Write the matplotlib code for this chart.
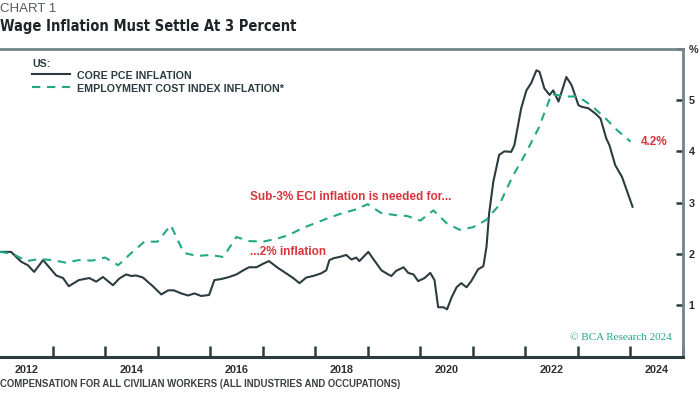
import numpy as np
import matplotlib
matplotlib.use('Agg')
import matplotlib.pyplot as plt

# Core PCE inflation (monthly), decimal year / percent
pce_year = [2012.02, 2012.21, 2012.40, 2012.53, 2012.65, 2012.82, 2013.07, 2013.20, 2013.31, 2013.50,
            2013.70, 2013.83, 2013.96, 2014.15, 2014.27, 2014.40, 2014.50, 2014.59, 2014.72, 2014.91,
            2015.07, 2015.20, 2015.31, 2015.45, 2015.58, 2015.70, 2015.83, 2015.98, 2016.08, 2016.21,
            2016.36, 2016.50, 2016.63, 2016.74, 2016.88, 2017.03, 2017.12, 2017.30, 2017.45, 2017.58,
            2017.70, 2017.83, 2017.96, 2018.11, 2018.21, 2018.27, 2018.36, 2018.46, 2018.59, 2018.69,
            2018.78, 2018.84, 2019.01, 2019.12, 2019.26, 2019.39, 2019.45, 2019.54, 2019.68, 2019.77,
            2019.87, 2019.96, 2020.08, 2020.19, 2020.27, 2020.34, 2020.44, 2020.51, 2020.59, 2020.69,
            2020.78, 2020.88, 2020.97, 2021.10, 2021.20, 2021.26, 2021.31, 2021.39, 2021.50, 2021.60,
            2021.73, 2021.79, 2021.92, 2022.02, 2022.11, 2022.21, 2022.27, 2022.36, 2022.46, 2022.53,
            2022.63, 2022.78, 2022.88, 2023.01, 2023.07, 2023.20, 2023.33, 2023.43, 2023.54, 2023.60,
            2023.71, 2023.84, 2024.04]
pce_val = [2.04, 2.04, 1.85, 1.78, 1.65, 1.88, 1.58, 1.53, 1.37, 1.49,
           1.53, 1.46, 1.55, 1.39, 1.52, 1.60, 1.57, 1.58, 1.54, 1.37,
           1.21, 1.29, 1.29, 1.23, 1.19, 1.23, 1.18, 1.20, 1.49, 1.51,
           1.55, 1.60, 1.68, 1.74, 1.74, 1.82, 1.86, 1.72, 1.62, 1.53,
           1.43, 1.54, 1.57, 1.62, 1.68, 1.88, 1.92, 1.94, 1.98, 1.89,
           1.93, 1.86, 2.04, 1.88, 1.68, 1.60, 1.57, 1.67, 1.74, 1.63,
           1.60, 1.47, 1.53, 1.63, 1.49, 0.96, 0.96, 0.92, 1.14, 1.35,
           1.43, 1.35, 1.47, 1.70, 1.76, 2.14, 2.79, 3.41, 3.93, 4.00,
           3.99, 4.12, 4.84, 5.19, 5.33, 5.58, 5.55, 5.23, 5.10, 5.19,
           4.97, 5.45, 5.29, 4.90, 4.87, 4.84, 4.74, 4.64, 4.25, 4.12,
           3.73, 3.50, 2.92]

# Employment cost index inflation (quarterly)
eci_year = [2012.00, 2012.25, 2012.50, 2012.75, 2013.00, 2013.25, 2013.50, 2013.75, 2014.00, 2014.25,
            2014.50, 2014.75, 2015.00, 2015.25, 2015.50, 2015.75, 2016.00, 2016.25, 2016.50, 2016.75,
            2017.00, 2017.25, 2017.50, 2017.75, 2018.00, 2018.25, 2018.50, 2018.75, 2019.00, 2019.25,
            2019.50, 2019.75, 2020.00, 2020.25, 2020.50, 2020.75, 2021.00, 2021.25, 2021.50, 2021.75,
            2022.00, 2022.25, 2022.50, 2022.75, 2023.00, 2023.25, 2023.50, 2023.75, 2024.00]
eci_val = [2.04, 2.00, 1.86, 1.90, 1.88, 1.83, 1.88, 1.87, 1.93, 1.78,
           2.02, 2.24, 2.24, 2.56, 2.02, 1.96, 1.98, 1.94, 2.33, 2.25,
           2.24, 2.29, 2.37, 2.50, 2.60, 2.70, 2.79, 2.86, 2.97, 2.80,
           2.76, 2.74, 2.65, 2.85, 2.60, 2.47, 2.52, 2.66, 2.95, 3.50,
           3.95, 4.45, 5.12, 5.07, 5.07, 4.90, 4.67, 4.41, 4.19]

year_labels = ['2012', '2014', '2016', '2018', '2020', '2022', '2024']
y_ticks = [1, 2, 3, 4, 5]

DARK = '#2b3c40'
TEAL = '#22a884'
RED = '#d7343c'
GREY = '#6f8589'
plt.rcParams['font.family'] = ['Liberation Sans', 'DejaVu Sans']

W, H = 700, 394
fig = plt.figure(figsize=(7, 3.94), dpi=100)
ax = fig.add_axes([0, 1 - 356.5 / H, 683 / W, (356.5 - 48.8) / H])

ax.plot(pce_year, pce_val, color=DARK, lw=1.5, solid_joinstyle='round')
ax.plot(eci_year, eci_val, color=TEAL, lw=1.5, dashes=(4, 3.2))

ax.set_xlim(2012.0, 2025.0)
ax.set_ylim(0, 6)

ax.spines['left'].set_visible(False)
ax.spines['top'].set_color(GREY)
ax.spines['right'].set_color(GREY)
ax.spines['top'].set_linewidth(2)
ax.spines['right'].set_linewidth(2)
ax.spines['bottom'].set_color(DARK)
ax.spines['bottom'].set_linewidth(2.2)

# year ticks at year boundaries, labels in mid-year
ax.set_xticks(np.arange(2013, 2026))
ax.set_xticklabels([])
ax.tick_params(axis='x', direction='in', length=8, width=1.8, color=DARK)
for i, lab in enumerate(year_labels):
    ax.text(2012.5 + 2 * i, -0.27, lab, ha='center', va='center', fontsize=7.8,
            fontweight='bold', color='#2a2f33')

ax.yaxis.tick_right()
ax.set_yticks(y_ticks + [6])
ax.set_yticklabels([str(t) for t in y_ticks] + ['%'])
ax.tick_params(axis='y', direction='in', length=5, width=1.8, color=DARK, pad=4,
               labelsize=7.8, labelcolor='#2a2f33')
for lab in ax.get_yticklabels():
    lab.set_fontweight('bold')

# legend
fig.text(32 / W, 1 - 64 / H, 'US:', fontsize=7.7, fontweight='bold', color=DARK, va='center')
fig.add_artist(plt.Line2D([32 / W, 70 / W], [1 - 74 / H, 1 - 74 / H], color=DARK, lw=1.5))
fig.add_artist(plt.Line2D([32 / W, 70 / W], [1 - 87 / H, 1 - 87 / H], color=TEAL, lw=1.5,
                          dashes=(4, 3.2)))
fig.text(77 / W, 1 - 76 / H, 'CORE PCE INFLATION', fontsize=7.7, fontweight='bold',
         color=DARK, va='center')
fig.text(77 / W, 1 - 89 / H, 'EMPLOYMENT COST INDEX INFLATION*', fontsize=7.7,
         fontweight='bold', color=DARK, va='center')

# annotations
fig.text(250 / W, 1 - 197 / H, 'Sub-3% ECI inflation is needed for...', fontsize=8.5,
         fontweight='bold', color=RED, va='center')
fig.text(250 / W, 1 - 252 / H, '...2% inflation', fontsize=8.5, fontweight='bold',
         color=RED, va='center')
ax.text(eci_year[-1] + 0.2, eci_val[-1], '4.2%', fontsize=8.5, fontweight='bold',
        color=RED, va='center')
fig.text(672 / W, 1 - 338 / H, '\u00a9 BCA Research 2024', fontsize=8, color=TEAL,
         ha='right', va='center', family=['Liberation Serif', 'DejaVu Serif'])

# titles
fig.text(0, 1 - 9 / H, 'CHART 1', fontsize=9.5, color='#555b5e', va='center')
fig.text(0, 1 - 27 / H, 'Wage Inflation Must Settle At 3 Percent', fontsize=10.5,
         fontweight='bold', color='#1e2528', va='center', fontstretch='condensed',
         family=['DejaVu Sans'])
fig.text(0, 1 - 384 / H, 'COMPENSATION FOR ALL CIVILIAN WORKERS (ALL INDUSTRIES AND OCCUPATIONS)',
         fontsize=6.9, fontweight='bold', color='#3a4043', va='center')

fig.savefig('out.png', dpi=100)
